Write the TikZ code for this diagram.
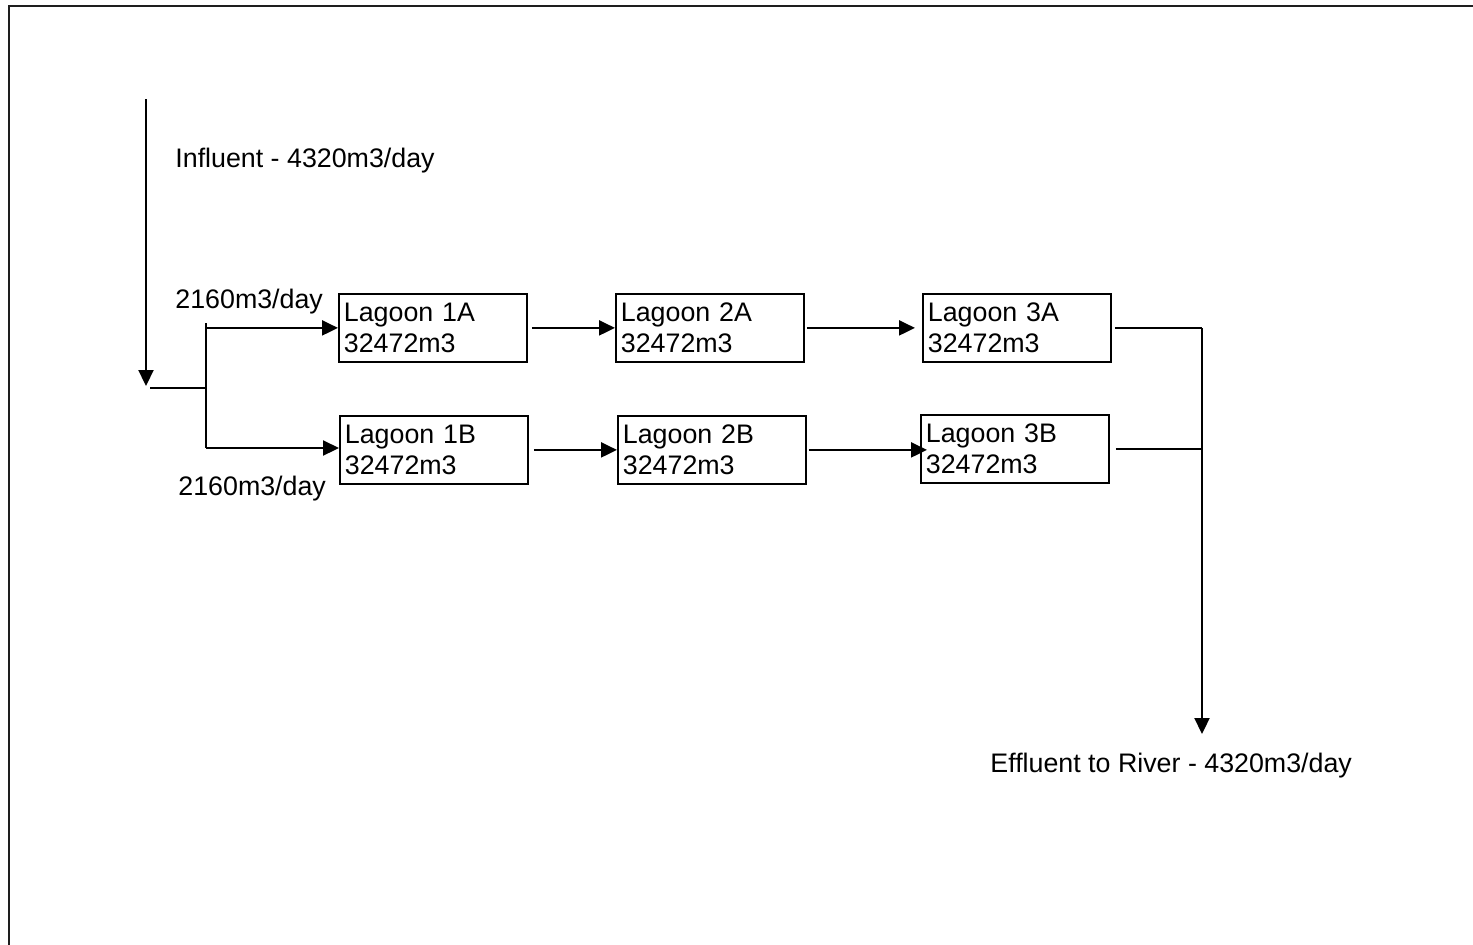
\documentclass[tikz,border=0pt]{standalone}
\usepackage{fontspec}
\setmainfont{Liberation Sans}
\usepackage{tikz}
\usetikzlibrary{arrows.meta,calc,positioning}
\definecolor{Ink}{HTML}{000000}
\definecolor{FrameGray}{HTML}{1E1E1E}
\tikzset{
  lagoonbox/.style={draw=Ink,line width=0.9pt,anchor=north west,minimum width=94pt,minimum height=34pt,text width=89pt,inner xsep=2.5pt,inner ysep=0pt,align=left,font=\fontsize{13.4}{15.5}\selectfont},
  flowline/.style={draw=Ink,line width=1.1pt},
  flowarrow/.style={flowline,-{Triangle[length=8pt,width=7.5pt]}},
  flowlabel/.style={anchor=base west,inner sep=0pt,font=\fontsize{13.4}{15.5}\selectfont},
  frameline/.style={draw=FrameGray,line width=1.4pt}
}

\begin{document}
\begin{tikzpicture}[x=0.5pt,y=-0.5pt]
  \useasboundingbox (0,0) rectangle (1473,944);
  \draw[frameline] (9,960) -- (9,6) -- (1490,6);

  % lagoons
  \node[lagoonbox] (L1A) at (338,293) {Lagoon 1A\\32472m3};
  \node[lagoonbox] (L2A) at (615,293) {Lagoon 2A\\32472m3};
  \node[lagoonbox] (L3A) at (922,293) {Lagoon 3A\\32472m3};
  \node[lagoonbox] (L1B) at (339,415) {Lagoon 1B\\32472m3};
  \node[lagoonbox] (L2B) at (617,415) {Lagoon 2B\\32472m3};
  \node[lagoonbox] (L3B) at (920,414) {Lagoon 3B\\32472m3};

  % influent and split
  \coordinate (InTop) at (146,99);
  \coordinate (InEnd) at (146,386);
  \coordinate (SplitW) at (150,388);
  \coordinate (SplitC) at (206,388);
  \coordinate (SplitN) at (206,323);
  \coordinate (SplitS) at (206,448);
  \draw[flowarrow] (InTop) -- (InEnd);
  \draw[flowline] (SplitW) -- (SplitC);
  \draw[flowline] (SplitN) -- (SplitS);
  \draw[flowarrow] (SplitN |- L1A.west) -- (L1A.west);
  \draw[flowarrow] (SplitS) -- (SplitS -| L1B.west);
  \node[flowlabel] (InLbl) at (175,167) {Influent - 4320m3/day};
  \node[flowlabel] (QA) at (175,308) {2160m3/day};
  \node[flowlabel] (QB) at (178,495) {2160m3/day};

  % series flow
  \draw[flowarrow,shorten <=2pt] (L1A.east) -- (L2A.west);
  \draw[flowarrow,shorten <=1pt,shorten >=3.5pt] (L2A.east) -- (L3A.west);
  \draw[flowarrow,shorten <=2.5pt] (L1B.east) -- (L1B.east -| L2B.west);
  \draw[flowarrow,shorten <=1pt,shorten >=-3.5pt] (L2B.east) -- (L2B.east -| L3B.west);

  % effluent
  \coordinate (OutN) at (1202,328);
  \coordinate (OutS) at (1202,448);
  \coordinate (OutEnd) at (1202,734);
  \draw[flowline,shorten <=1.5pt] (L3A.east) -- (L3A.east -| OutN);
  \draw[flowline,shorten <=3pt] (L3B.east) -- (L3B.east -| OutS);
  \draw[flowarrow] (OutN) -- (OutEnd);
  \node[flowlabel] (OutLbl) at (990,772) {Effluent to River - 4320m3/day};
\end{tikzpicture}
\end{document}
